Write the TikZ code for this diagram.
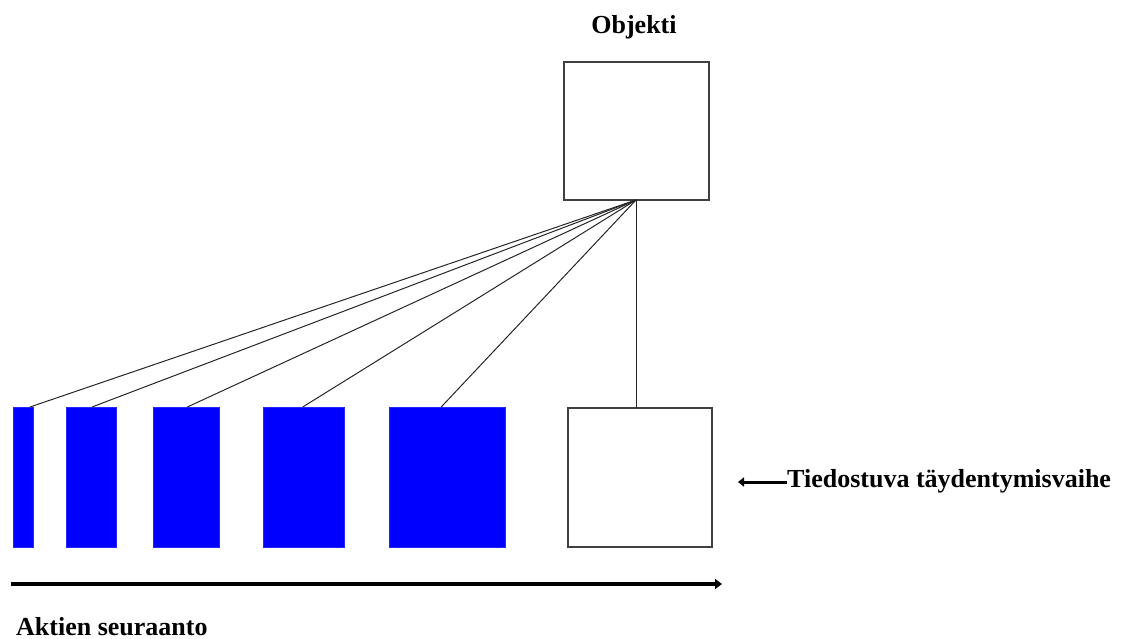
\documentclass[tikz,border=0pt]{standalone}
\usepackage{fontspec}
\setmainfont{Liberation Serif}
\usetikzlibrary{calc,arrows.meta}
\begin{document}
\begin{tikzpicture}[x=1pt,y=-1pt,
  outline/.style={draw=black!75,line width=1.3pt,fill=white,inner sep=0pt,outer sep=0pt},
  bluebar/.style={fill=blue,draw=blue!85!white,line width=0.5pt,inner sep=0pt,outer sep=0pt,minimum height=140pt},
  link/.style={draw=black!85,line width=1pt},
  lbl/.style={font=\bfseries\fontsize{26}{30}\selectfont,inner sep=0pt},
  bigarrow/.style={line width=3.8pt,-{Triangle[length=7pt,width=10pt]}},
  smallarrow/.style={line width=3pt,-{Triangle[length=6pt,width=9pt]}}]
\useasboundingbox (0,0) rectangle (1125,639);
% boxes
\node[outline,minimum width=145pt,minimum height=138pt] (obj) at (636.5,131) {};
\node[outline,minimum width=144pt,minimum height=139pt] (cur) at (640,477.5) {};
\node[bluebar,minimum width=20pt] (b1) at (23,477) {};
\node[bluebar,minimum width=50pt] (b2) at (91,477) {};
\node[bluebar,minimum width=66pt] (b3) at (186,477) {};
\node[bluebar,minimum width=81pt] (b4) at (303.5,477) {};
\node[bluebar,minimum width=116pt] (b5) at (447,477) {};
% labels
\node[lbl,anchor=base] (objlbl) at (634,34) {Objekti};
\node[lbl,anchor=base west] (seq) at (16,635) {Aktien seuraanto};
\node[lbl,anchor=base west] (phase) at (787,487) {Tiedostuva täydentymisvaihe};
% connectors
\coordinate (apex) at ($(obj.south)+(-0.5,0)$);
\draw[link] (apex) -- ($(b1.north west)!0.85!(b1.north east)$);
\draw[link] (apex) -- ($(b2.north west)!0.52!(b2.north east)$);
\draw[link] (apex) -- ($(b3.north west)!0.52!(b3.north east)$);
\draw[link] (apex) -- ($(b4.north west)!0.49!(b4.north east)$);
\draw[link] (apex) -- ($(b5.north west)!0.45!(b5.north east)$);
\draw[link] (apex) -- (apex |- cur.north);
% arrows
\coordinate (seqstart) at (11,584);
\coordinate (seqend) at (722,584);
\draw[bigarrow] (seqstart) -- (seqend);
\coordinate (phasetip) at (738,482);
\draw[smallarrow] (phase.west |- phasetip) -- (phasetip);
\end{tikzpicture}
\end{document}
